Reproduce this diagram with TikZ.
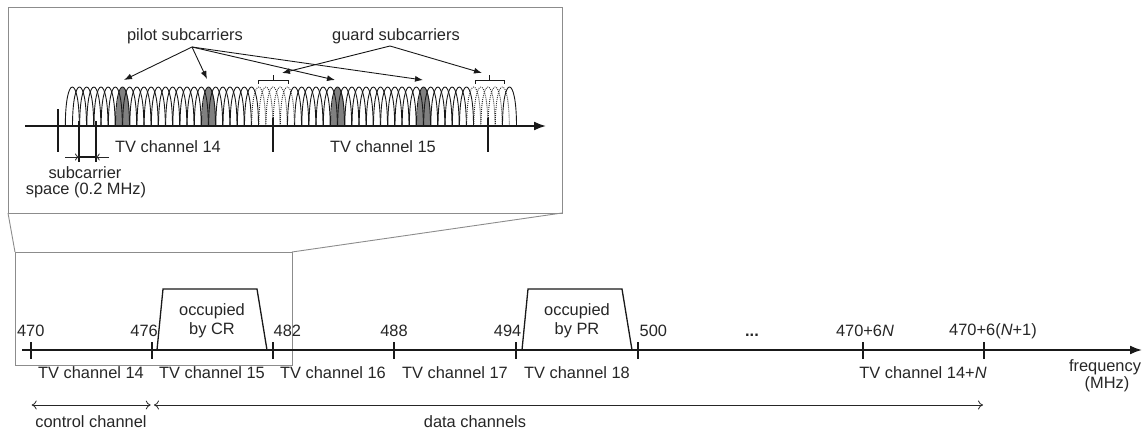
\documentclass[tikz,border=0pt]{standalone}
\usepackage{fontspec}
\setmainfont{Liberation Sans}
\usetikzlibrary{arrows.meta}
\begin{document}
\begin{tikzpicture}[x=1pt,y=-1pt,
  lbl/.style={inner sep=0pt, font=\fontsize{16.4}{18}\selectfont, text=black!85, align=center},
  axisline/.style={line width=1.8pt, draw=black!90},
  boxline/.style={draw=black!45, line width=0.9pt},
  tickmark/.style={line width=1.8pt, draw=black!90},
  thinline/.style={line width=0.9pt, draw=black!90},
  fillarrow/.style={-{Latex[length=12pt,width=9pt]}},
  smallfill/.style={line width=0.9pt, draw=black!90, -{Latex[length=8pt,width=6pt]}},
  openboth/.style={line width=0.8pt, draw=black!85, {To[length=5pt,width=9pt]}-{To[length=5pt,width=9pt]}},
  opentip/.style={line width=0.8pt, draw=black!85, -{To[length=4pt,width=7pt]}},
  hump/.style={line width=0.9pt, draw=black!90},
  guardhump/.style={line width=0.9pt, draw=black!85, dash pattern=on 0.9pt off 1.1pt},
  pilotfill/.style={fill=black!50},
]
\useasboundingbox (0,0) rectangle (1146,431);

% ---------------- inset ----------------
\draw[boxline] (8,7) coordinate (inTL) rectangle (562,213) coordinate (inBR);
\coordinate (inBL) at (8,213);
\draw[boxline] (15,252) coordinate (smTL) rectangle (292,365);
\coordinate (smTR) at (292,252);
\draw[boxline] (inBL) -- (smTL);
\draw[boxline] (inBR) -- (smTR);

% pilot fills
\foreach \j in {9,21,39,51}{
  \pgfmathsetmacro{\c}{58+\j*7.1667}
  \fill[pilotfill] (\c-7,126) .. controls (\c-7,74) and (\c+7,74) .. (\c+7,126) -- cycle;
}
% humps
\foreach \j in {2,...,63}{
  \pgfmathsetmacro{\c}{58+\j*7.1667}
  \pgfmathtruncatemacro{\g}{((\j>27)&&(\j<33)) || ((\j>57)&&(\j<63)) ? 1 : 0}
  \ifnum\g=1
    \draw[guardhump] (\c-7,126) .. controls (\c-7,74) and (\c+7,74) .. (\c+7,126);
  \else
    \draw[hump] (\c-7,126) .. controls (\c-7,74) and (\c+7,74) .. (\c+7,126);
  \fi
}

% inset axis
\coordinate (ia0) at (25,126);
\coordinate (ia1) at (546,126);
\draw[axisline, fillarrow] (ia0) -- (ia1);
\draw[tickmark] (58,109) coordinate (t0a) -- (58,152) coordinate (t0b);
\draw[tickmark] (79,121) coordinate (s1a) -- (79,162) coordinate (s1b);
\draw[tickmark] (95.7,121) coordinate (s2a) -- (95.7,162) coordinate (s2b);
\draw[tickmark] (273,118) coordinate (t1a) -- (273,152) coordinate (t1b);
\draw[tickmark] (488,118) coordinate (t2a) -- (488,152) coordinate (t2b);

% subcarrier spacing
\coordinate (sp1) at (79,157);
\coordinate (sp2) at (95.7,157);
\coordinate (spL) at (65,157);
\coordinate (spR) at (109,157);
\draw[tickmark] (sp1) -- (sp2);
\draw[opentip] (spL) -- (sp1);
\draw[opentip] (spR) -- (sp2);

\node[lbl] (sub1) at (85,173) {subcarrier};
\node[lbl] (sub2) at (86,190) {space (0.2 MHz)};
\node[lbl] (ich14) at (168,147) {TV channel 14};
\node[lbl] (ich15) at (383,147) {TV channel 15};

% guard brackets
\draw[thinline] (258,84) -- (258,80) -- (288,80) -- (288,84);
\draw[thinline] (273,80) -- (273,75) coordinate (gb1);
\draw[thinline] (475,84) -- (475,80) -- (504,80) -- (504,84);
\draw[thinline] (489.5,80) -- (489.5,75) coordinate (gb2);

% labels with arrows
\node[lbl] (pilot) at (185,36) {pilot subcarriers};
\node[lbl] (guard) at (396,36) {guard subcarriers};
\coordinate (po) at (192,47);
\coordinate (go) at (390,46);
\coordinate (p1) at (124,80);
\coordinate (p2) at (207,79);
\coordinate (p3) at (335,80);
\coordinate (p4) at (423,80);
\coordinate (g1) at (282,73);
\coordinate (g2) at (482,73);
\foreach \p in {p1,p2,p3,p4} \draw[smallfill] (po) -- (\p);
\foreach \g in {g1,g2} \draw[smallfill] (go) -- (\g);

% ---------------- main axis ----------------
\coordinate (a0) at (22,350);
\coordinate (a1) at (1142,350);
\draw[axisline, fillarrow] (a0) -- (a1);

% occupied trapezoids
\draw[line width=1.3pt, draw=black!90] (157,350) coordinate (cr0) -- (163,289) -- (257,289) -- (267,350) coordinate (cr1);
\draw[line width=1.3pt, draw=black!90] (522,350) coordinate (pr0) -- (528,289) -- (622,289) -- (632,350) coordinate (pr1);
\node[lbl] (occ1) at (212,311) {occupied};
\node[lbl] (by1) at (212,330) {by CR};
\node[lbl] (occ2) at (577,311) {occupied};
\node[lbl] (by2) at (577,330) {by PR};

\foreach \x/\n in {30.7/m470,152/m476,272.7/m482,394/m488,516/m494,638/m500,862.7/mN,984/mN1}{
  \draw[tickmark] (\x,342) coordinate (\n a) -- (\x,359) coordinate (\n b);
}
\node[lbl] (l470) at (30.7,331) {470};
\node[lbl, anchor=east] (l476) at (158,331) {476};
\node[lbl, anchor=west] (l482) at (273.5,331) {482};
\node[lbl] (l488) at (394,331) {488};
\node[lbl, anchor=east] (l494) at (521.5,331) {494};
\node[lbl, anchor=west] (l500) at (639.5,331) {500};
\node[lbl] (dots) at (752,335) {\textbf{...}};
\node[lbl] (lN) at (865,331) {470+6\textit{N}};
\node[lbl] (lN1) at (993,331) {470+6(\textit{N}+1)};

\node[lbl] (c14) at (91,373) {TV channel 14};
\node[lbl] (c15) at (212,373) {TV channel 15};
\node[lbl] (c16) at (333,373) {TV channel 16};
\node[lbl] (c17) at (455,373) {TV channel 17};
\node[lbl] (c18) at (577,373) {TV channel 18};
\node[lbl] (cN) at (923,373) {TV channel 14+\textit{N}};
\node[lbl] (freq) at (1105,367) {frequency};
\node[lbl] (mhz) at (1107,384) {(MHz)};

\coordinate (cc0) at (31.7,405);
\coordinate (cc1) at (150.7,405);
\coordinate (dc0) at (154,405);
\coordinate (dc1) at (983,405);
\draw[openboth] (cc0) -- (cc1);
\draw[openboth] (dc0) -- (dc1);
\node[lbl] (ctl) at (91,422) {control channel};
\node[lbl] (data) at (475,422) {data channels};
\end{tikzpicture}
\end{document}
